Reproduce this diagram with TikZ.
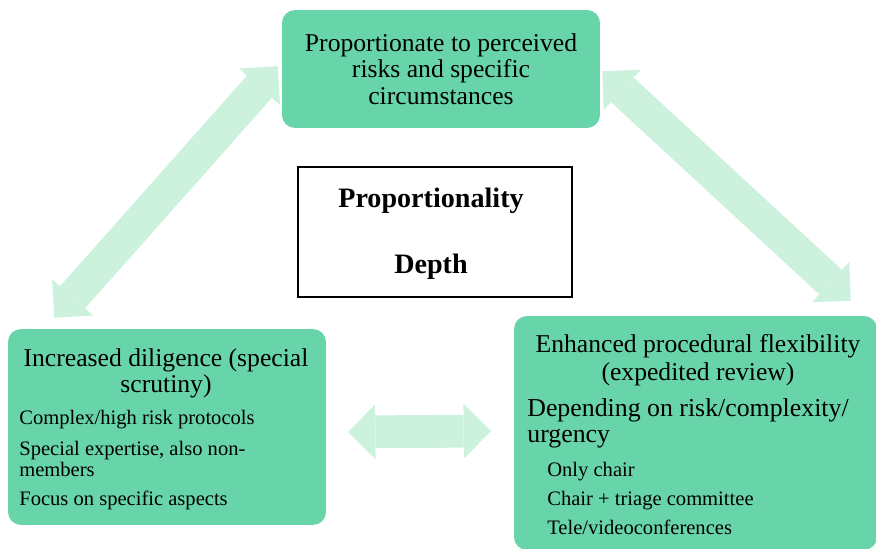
\documentclass[tikz,border=0pt]{standalone}
\usepackage{fontspec}
\setmainfont{Liberation Serif}
\usetikzlibrary{arrows.meta}
\definecolor{boxgreen}{RGB}{104,212,169}
\definecolor{arrowgreen}{RGB}{204,242,221}
\tikzset{
	greenbox/.style={fill=boxgreen, rounded corners=0.26cm, inner sep=0pt},
	headline/.style={anchor=base, inner sep=0pt, font=\fontsize{14.6}{16}\selectfont},
	bigline/.style={anchor=base west, inner sep=0pt, font=\fontsize{14.7}{17}\selectfont},
	itemline/.style={anchor=base west, inner sep=0pt, font=\fontsize{11.7}{13}\selectfont},
	boldline/.style={anchor=base, inner sep=0pt, font=\fontsize{16}{18}\selectfont\bfseries},
	flowtip/.tip={Triangle[length=15.6pt, width=31.2pt, line width=0pt, sep=-0.6pt]},
	flowarrow/.style={draw=arrowgreen, line width=19pt, arrows=flowtip-flowtip}
	}

\begin{document}
\begin{tikzpicture}[x=0.02cm, y=-0.02cm]
	\useasboundingbox (0,0) rectangle (876,548);

	% double arrows between the three boxes
	\coordinate (lefttip) at (55,317);
	\coordinate (topltip) at (277,67);
	\coordinate (toprtip) at (603,72);
	\coordinate (righttip) at (850,300);
	\coordinate (midltip) at (349,432);
	\coordinate (midrtip) at (490,431);
	\draw[flowarrow] (lefttip) -- (topltip);
	\draw[flowarrow] (toprtip) -- (righttip);
	\draw[flowarrow, line width=18.7pt] (midltip) -- (midrtip);

	% the three green boxes
	\node[greenbox, minimum width=6.36cm, minimum height=2.36cm, align=center,
		font=\fontsize{14.6}{15.1}\selectfont] (scope) at (441,69)
		{Proportionate to perceived\\risks and specific\\circumstances};
	\node[greenbox, minimum width=6.36cm, minimum height=3.92cm] (diligence) at (167,427) {};
	\node[greenbox, minimum width=7.26cm, minimum height=4.68cm] (flexibility) at (695.5,433) {};

	% centre box
	\node[draw=black, line width=1.1pt, fill=white, minimum width=5.48cm, minimum height=2.6cm] (centre) at (435,232) {};
	\node[boldline] (prop) at (431,207) {Proportionality};
	\node[boldline] (depth) at (431,273) {Depth};

	% left box text
	\node[headline] (dil1) at (166,366) {Increased diligence (special};
	\node[headline] (dil2) at (166,392) {scrutiny)};
	\node[itemline] (dila) at (19,424) {Complex/high risk protocols};
	\node[itemline] (dilb) at (19,455) {Special expertise, also non-};
	\node[itemline] (dilc) at (19,476) {members};
	\node[itemline] (dild) at (19,505) {Focus on specific aspects};

	% right box text
	\node[headline] (flex1) at (698,352) {Enhanced procedural flexibility};
	\node[headline] (flex2) at (698,380) {(expedited review)};
	\node[bigline] (dep1) at (527,416) {Depending on risk/complexity/};
	\node[bigline] (dep2) at (527,442) {urgency};
	\node[itemline] (flexa) at (547,476) {Only chair};
	\node[itemline] (flexb) at (547,505) {Chair + triage committee};
	\node[itemline] (flexc) at (547,534) {Tele/videoconferences};
\end{tikzpicture}
\end{document}
